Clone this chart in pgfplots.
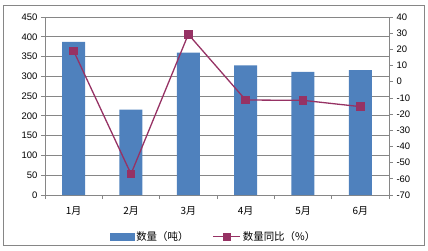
\documentclass[border=0pt]{standalone}
\usepackage{pgfplots}
\pgfplotsset{compat=1.18}
\usepackage{fontspec}
\setmainfont{Liberation Sans}
\newfontfamily\cjk{Noto Sans CJK SC}
\definecolor{barblue}{RGB}{79,129,189}
\definecolor{linecol}{RGB}{150,50,100}
\definecolor{gridc}{RGB}{134,134,134}
\begin{document}
\begin{tikzpicture}
\useasboundingbox (0,0) rectangle (428bp,251bp);
\draw[gridc, line width=0.8bp] (3bp,6bp) rectangle (424bp,246bp);
\begin{axis}[
  scale only axis, width=344bp, height=178bp,
  at={(45bp,56bp)}, anchor=south west,
  xmin=-0.5, xmax=5.5, ymin=0, ymax=450,
  ytick={0,50,...,450},
  xtick={0,...,5},
  xticklabels={1月,2月,3月,4月,5月,6月},
  x tick label style={font=\cjk\fontsize{10}{12}\selectfont, yshift=-4bp},
  y tick label style={font=\fontsize{9.5}{11}\selectfont},
  /pgf/number format/assume math mode=true,
  major x tick style={draw=none},
  minor xtick={-0.5,0.5,...,5.5},
  minor tick length=4bp, major tick length=4bp,
  tick align=outside,
  axis x line*=bottom, axis y line*=left,
  axis line style={gridc, line width=0.8bp, -},
  tick style={gridc, line width=0.8bp},
  ymajorgrids, grid style={gridc, line width=0.8bp},
  clip=false,
]
\addplot[ybar, bar width=23bp, fill=barblue, draw=none] coordinates {
  (0,387) (1,216) (2,360) (3,328) (4,311) (5,316)};
\end{axis}
\begin{axis}[
  scale only axis, width=344bp, height=178bp,
  at={(45bp,56bp)}, anchor=south west,
  xmin=-0.5, xmax=5.5, ymin=-70, ymax=40,
  ytick={-70,-60,...,40},
  axis x line=none, axis y line*=right,
  axis line style={gridc, line width=0.8bp, -},
  tick style={gridc, line width=0.8bp},
  major tick length=4bp, tick align=outside,
  y tick label style={font=\fontsize{9.5}{11}\selectfont},
  /pgf/number format/assume math mode=true,
  legend style={at={(0.49,-0.235)}, anchor=center, draw=none, fill=none,
    legend columns=2, font=\cjk\fontsize{10.5}{12}\selectfont,
    /tikz/every even column/.append style={column sep=22bp},
    legend cell align=left},
  clip=false,
]
\addlegendimage{legend image code/.code={\fill[barblue] (0bp,-3.5bp) rectangle (24bp,3.5bp);}}
\addlegendentry{数量（吨）}
\addplot[linecol, line width=1.3bp, mark=square*, mark size=3.8bp,
  mark options={fill=linecol, draw=linecol},
  legend image code/.code={\draw[linecol, line width=1.3bp] (0bp,0bp) -- (27bp,0bp); \fill[linecol] (10bp,-3.5bp) rectangle (17bp,3.5bp);}]
  coordinates {(0,19) (1,-57) (2,29.3) (3,-11.3) (4,-11.5) (5,-15.4)};
\addlegendentry{数量同比（\%）}
\end{axis}
\end{tikzpicture}
\end{document}
